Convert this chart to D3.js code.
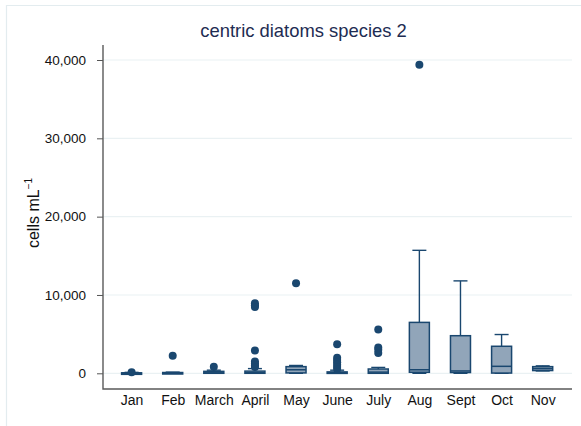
<!DOCTYPE html>
<html>
<head>
<meta charset="utf-8">
<script src="https://cdn.jsdelivr.net/npm/d3@7"></script>
<style>
  html, body { margin: 0; padding: 0; background: #fff; }
  svg { display: block; font-family: "Liberation Sans", Arial, Helvetica, sans-serif; }
</style>
</head>
<body>
<svg id="chart" width="581" height="426"></svg>
<script>
const months = ["Jan","Feb","March","April","May","June","July","Aug","Sept","Oct","Nov"];
const whiskerLow  = [0,   0,   0,   0,   0,   0,   0,    0,     0,     0,    300];
const q1          = [0,   0,   0,   0,   50,  0,   0,    130,   100,   30,   350];
const median      = [20,  30,  60,  70,  450, 60,  150,  450,   300,   890,  600];
const q3          = [60,  100, 250, 280, 850, 180, 550,  6500,  4800,  3450, 850];
const whiskerHigh = [120, 150, 400, 600, 1000,400, 750,  15700, 11800, 4950, 950];
const outliers = [
  [150],
  [2250],
  [850],
  [8950, 8700, 8450, 2900, 1500, 1250, 1000, 800],
  [11500],
  [3700, 2000, 1700, 1400, 1100, 800, 550],
  [5600, 3300, 3000, 2600],
  [39400],
  [],
  [],
  []
];
const yTicks = [0, 10000, 20000, 30000, 40000];

(function () {
const svg = d3.select("#chart");
const pLeft = 103, pRight = 572, pTop = 45, pBottom = 389;

// outer frame
svg.append("path").attr("d", "M6.5,426 V5.5 H581").attr("fill", "none")
  .attr("stroke", "#e3ecef").attr("stroke-width", 1.2);

const x = d3.scalePoint().domain(months).range([131.6, 542.7]);
const y = d3.scaleLinear().domain([0, 40000]).range([373.3, 60]);

// grid
svg.append("g").selectAll("line").data(yTicks).join("line")
  .attr("x1", pLeft).attr("x2", pRight)
  .attr("y1", d => y(d)).attr("y2", d => y(d))
  .attr("stroke", "#eaf1f3").attr("stroke-width", 1.2);

// y axis
const yAxis = svg.append("g").attr("transform", `translate(${pLeft},0)`)
  .call(d3.axisLeft(y).tickValues(yTicks).tickSize(6).tickPadding(11).tickFormat(d3.format(",")));
yAxis.select(".domain").remove();
yAxis.selectAll(".tick line").attr("stroke", "#555").attr("stroke-width", 1);
yAxis.selectAll(".tick text").attr("font-size", 13.5).attr("fill", "#111")
  .attr("font-family", "Liberation Sans, Arial, sans-serif");

// x axis labels
const xAxis = svg.append("g").attr("transform", `translate(0,${pBottom})`)
  .call(d3.axisBottom(x).tickSize(0).tickPadding(6));
xAxis.select(".domain").remove();
xAxis.selectAll(".tick text").attr("font-size", 14).attr("fill", "#111")
  .attr("font-family", "Liberation Sans, Arial, sans-serif");

// axis lines
svg.append("path").attr("d", `M${pLeft},${pTop} V${pBottom} H${pRight}`)
  .attr("fill", "none").attr("stroke", "#5a5a5a").attr("stroke-width", 1.4);

const stroke = "#1a476f", fill = "#91a5b9";
const boxW = 20, capW = 14;
const g = svg.append("g");
months.forEach((m, i) => {
  const cx = x(m);
  g.append("line").attr("x1", cx).attr("x2", cx).attr("y1", y(q3[i])).attr("y2", y(whiskerHigh[i]))
    .attr("stroke", stroke).attr("stroke-width", 1.4);
  g.append("line").attr("x1", cx).attr("x2", cx).attr("y1", y(q1[i])).attr("y2", y(whiskerLow[i]))
    .attr("stroke", stroke).attr("stroke-width", 1.4);
  g.append("line").attr("x1", cx - capW/2).attr("x2", cx + capW/2)
    .attr("y1", y(whiskerHigh[i])).attr("y2", y(whiskerHigh[i]))
    .attr("stroke", stroke).attr("stroke-width", 1.4);
  g.append("line").attr("x1", cx - capW/2).attr("x2", cx + capW/2)
    .attr("y1", y(whiskerLow[i])).attr("y2", y(whiskerLow[i]))
    .attr("stroke", stroke).attr("stroke-width", 1.4);
  g.append("rect").attr("x", cx - boxW/2).attr("width", boxW)
    .attr("y", y(q3[i])).attr("height", Math.max(1.5, y(q1[i]) - y(q3[i])))
    .attr("fill", fill).attr("stroke", stroke).attr("stroke-width", 1.5);
  g.append("line").attr("x1", cx - boxW/2).attr("x2", cx + boxW/2)
    .attr("y1", y(median[i])).attr("y2", y(median[i]))
    .attr("stroke", stroke).attr("stroke-width", 1.5);
  g.selectAll(null).data(outliers[i]).join("circle")
    .attr("cx", cx).attr("cy", d => y(d)).attr("r", 4)
    .attr("fill", stroke);
});

// title
svg.append("text").attr("x", 303.5).attr("y", 37).attr("text-anchor", "middle")
  .attr("font-size", 18.4).attr("fill", "#1e2c52").text("centric diatoms species 2");

// y title
const yt = svg.append("text").attr("transform", "translate(39,213) rotate(-90)")
  .attr("text-anchor", "middle").attr("font-size", 16).attr("fill", "#111");
yt.append("tspan").text("cells mL");
yt.append("tspan").attr("font-size", 10).attr("dy", -7).text("−1");
})();
</script>
</body>
</html>
